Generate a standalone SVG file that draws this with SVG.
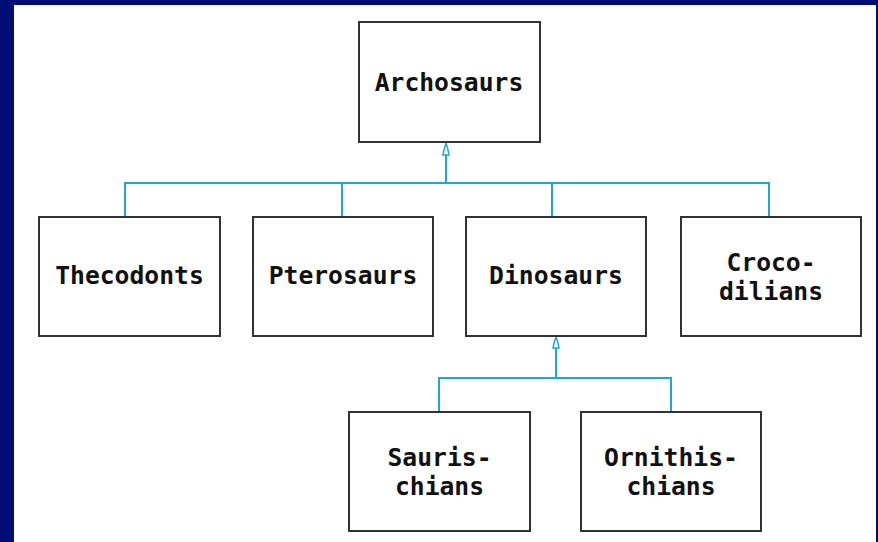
<svg xmlns="http://www.w3.org/2000/svg" width="878" height="542" viewBox="0 0 878 542">
<style>
.box{fill:#fff;stroke:#333;stroke-width:2}
.t{font-family:"DejaVu Sans Mono","Liberation Mono",monospace;font-weight:bold;font-size:24.7px;fill:#111;text-anchor:middle}
.c{fill:none;stroke:#1ea8d2;stroke-width:2}
.ah{fill:#fff;stroke:#1ea8d2;stroke-width:1.5}
</style>
<rect x="0" y="0" width="878" height="542" fill="#fff"/>
<rect x="0" y="0" width="878" height="5" fill="#000e74"/>
<rect x="0" y="0" width="14" height="542" fill="#000e74"/>
<rect x="876" y="0" width="2" height="542" fill="#000e74"/>
<g id="connectors">
<path class="c" d="M446 155V183M125 217V183H769V217M342 183V217M552 183V217"/>
<path class="ah" d="M446 143L448 150L449 155H443L444 150Z"/>
<path class="c" d="M556 348V378M439 411V378H671V411"/>
<path class="ah" d="M556 337L558 343L559 348H553L554 343Z"/>
</g>
<g id="archosaurs"><rect class="box" x="359" y="22" width="181" height="120"/><text class="t" x="449" y="91">Archosaurs</text></g>
<g id="thecodonts"><rect class="box" x="39" y="217" width="181" height="119"/><text class="t" x="129.5" y="284">Thecodonts</text></g>
<g id="pterosaurs"><rect class="box" x="253" y="217" width="180" height="119"/><text class="t" x="343" y="284">Pterosaurs</text></g>
<g id="dinosaurs"><rect class="box" x="466" y="217" width="180" height="119"/><text class="t" x="556" y="284">Dinosaurs</text></g>
<g id="crocodilians"><rect class="box" x="681" y="217" width="180" height="119"/><text class="t" x="771" y="271">Croco-</text><text class="t" x="771" y="300">dilians</text></g>
<g id="saurischians"><rect class="box" x="349" y="412" width="181" height="119"/><text class="t" x="439.5" y="466">Sauris-</text><text class="t" x="439.5" y="495">chians</text></g>
<g id="ornithischians"><rect class="box" x="581" y="412" width="180" height="119"/><text class="t" x="671" y="466">Ornithis-</text><text class="t" x="671" y="495">chians</text></g>
</svg>
